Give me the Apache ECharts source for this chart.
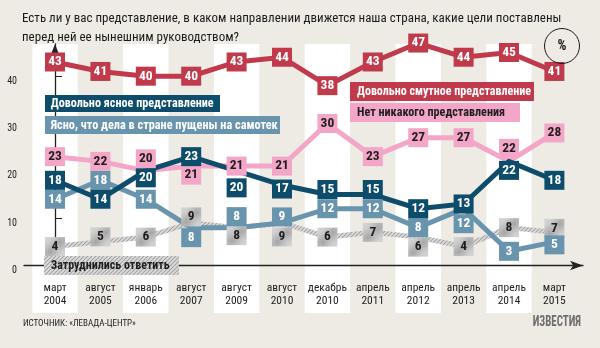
<!DOCTYPE html>
<html><head><meta charset="utf-8">
<script src="https://cdn.jsdelivr.net/npm/echarts@6/dist/echarts.min.js"></script>
<style>html,body{margin:0;padding:0;background:#edebe3;}#c{width:600px;height:348px;}</style>
</head><body><div id="c"></div>
<script>
// ---- data ----
const categories = ['март\n2004','август\n2005','январь\n2006','август\n2007','август\n2009','август\n2010','декабрь\n2010','апрель\n2011','апрель\n2012','апрель\n2013','апрель\n2014','март\n2015'];
const vague = [43,41,40,40,43,44,38,43,47,44,45,41];   // Довольно смутное представление
const noIdea = [23,22,20,21,21,21,30,23,27,27,22,28];  // Нет никакого представления
const clear = [18,14,20,23,20,17,15,15,12,13,22,18];   // Довольно ясное представление
const drift = [14,18,14,8,8,9,12,12,8,12,3,5];         // Ясно, что дела в стране пущены на самотек
const hard = [4,5,6,9,8,9,6,7,6,4,8,7];                // Затруднились ответить
const yTicks = [0,10,20,30,40];
const title = 'Есть ли у вас представление, в каком направлении движется наша страна, какие цели поставлены\nперед ней ее нынешним руководством?';
const source = 'ИСТОЧНИК: «ЛЕВАДА-ЦЕНТР»';
const logo = 'ИЗВЕСТИЯ';
const legendNames = ['Довольно ясное представление','Ясно, что дела в стране пущены на самотек','Довольно смутное представление','Нет никакого представления','Затруднились ответить'];

// ---- styling / layout ----
const FN = 'Roboto Condensed';
const F = "'Roboto Condensed','DejaVu Sans Condensed',sans-serif";
const C = {vague:'#c13a4b', noIdea:'#f3a6c8', clear:'#0e4c6b', drift:'#6894ae', ink:'#1e1e1e'};
// vertical nudges (px) of the value boxes, to keep them from overlapping
const shift = {
  vague:  {},
  noIdea: {2:-12, 3:9, 10:-13},
  clear:  {2:7, 4:17, 5:4, 6:-5, 7:-5, 10:9},
  drift:  {3:10, 4:-11, 5:-6, 9:15, 11:3},
  hard:   {1:-5, 3:-6, 4:8, 5:14, 8:10, 11:-4}
};
function hatch(){
  const c=document.createElement('canvas'); c.width=4; c.height=4;
  const g=c.getContext('2d'); g.fillStyle='#dcdcdc'; g.fillRect(0,0,4,4);
  g.strokeStyle='#a2a2a2'; g.lineWidth=1.1;
  g.beginPath(); g.moveTo(-1,5); g.lineTo(5,-1); g.moveTo(-1,1); g.lineTo(1,-1); g.moveTo(3,5); g.lineTo(5,3); g.stroke();
  return c;
}
const HATCH = {image: hatch(), repeat:'repeat'};
const mctx = document.createElement('canvas').getContext('2d');
function fitScale(text, size, weight, target){
  mctx.font = weight + ' ' + size + "px '" + FN + "'";
  return target / mctx.measureText(text).width;
}

function lineSeries(values, color, withBands){
  const s = {type:'line', data: values.map((v,i)=>[i,v]), showSymbol:false, symbol:'none',
    lineStyle:{color, width:5, cap:'butt', join:'miter'}, itemStyle:{color}, clip:false, silent:true, animation:false, z:2};
  if (withBands) {
    s.markArea = {silent:true, z:1, itemStyle:{color:'#ffffff', borderWidth:0}, label:{show:false},
      data: categories.map((c,i)=>i).filter(i=>i%2===0).map(i=>[{xAxis:i-0.5, y:44},{xAxis:i+0.5, y:313}])};
  }
  return s;
}
function boxSeries(values, color, textColor, sh){
  return {type:'scatter', data: values.map((v,i)=>{
      const d={value:[i,v]}; if (sh[i]) d.symbolOffset=[0,sh[i]]; return d;}),
    symbol:'rect', symbolSize:[20,19], itemStyle:{color, borderWidth:0, opacity:1},
    label:{show:true, position:'inside', color:textColor, fontFamily:F, fontWeight:'bold', fontSize:13.5, formatter:p=>p.value[1]},
    emphasis:{disabled:true}, clip:false, silent:true, animation:false, z:4};
}
function tag(x,y,w,h,fill,text,color,pad,textW){
  const sx = fitScale(text, 13.5, 'bold', textW);
  return [{type:'rect', shape:{x,y,width:w,height:h}, style:{fill}, z:10, silent:true},
          {type:'text', x:x+pad, y:y+h/2+0.5, scaleX:sx, originX:0, originY:0,
           style:{text, fill:color, fontFamily:F, fontWeight:'bold', fontSize:13.5, verticalAlign:'middle'}, z:11, silent:true}];
}

const chart = echarts.init(document.getElementById('c'), null, {renderer:'canvas'});
chart.setOption({
  backgroundColor:'#edebe3',
  animation:false,
  grid:{left:24, right:17, top:44, bottom:82.5, containLabel:false},
  xAxis:{type:'value', min:-0.683, max:11.63, z:3,
    axisLine:{show:true, onZero:true, symbol:['none','arrow'], symbolSize:[7,13], lineStyle:{color:'#222', width:1.3}},
    axisTick:{show:false}, splitLine:{show:false},
    axisLabel:{customValues: categories.map((c,i)=>i), formatter:v=>categories[v], color:'#222', fontFamily:F, fontSize:11.5, lineHeight:13, margin:16}},
  yAxis:{type:'value', min:0, max:46.8, interval:10, z:3,
    axisLine:{show:true, symbol:['none','arrow'], symbolSize:[7,12], lineStyle:{color:'#222', width:1.3}},
    axisTick:{show:true, inside:true, length:7, customValues:yTicks, lineStyle:{color:'#222', width:1}},
    splitLine:{show:false},
    axisLabel:{customValues:yTicks, color:'#222', fontFamily:F, fontSize:10, margin:7, verticalAlign:'top'}},
  series:[
    lineSeries(hard, HATCH, true),
    lineSeries(drift, C.drift),
    lineSeries(noIdea, C.noIdea),
    lineSeries(clear, C.clear),
    lineSeries(vague, C.vague),
    boxSeries(hard, HATCH, C.ink, shift.hard),
    boxSeries(drift, C.drift, '#fff', shift.drift),
    boxSeries(noIdea, C.noIdea, C.ink, shift.noIdea),
    boxSeries(clear, C.clear, '#fff', shift.clear),
    boxSeries(vague, C.vague, '#fff', shift.vague)
  ],
  graphic:[
    {type:'text', left:22, top:9, style:{text:title, fill:'#1a1a1a', fontFamily:F, fontSize:13, lineHeight:19}, z:10, silent:true},
    ...tag(45,95,175,17,C.clear,legendNames[0],'#fff',5.7,163),
    ...tag(45,116,235,18,C.drift,legendNames[1],'#fff',5.7,227),
    ...tag(350,82,184,19,C.vague,legendNames[2],'#fff',7,174),
    ...tag(350,103,170,19,C.noIdea,legendNames[3],C.ink,7,148),
    ...tag(44,256,135,19,HATCH,legendNames[4],C.ink,6.7,119),
    {type:'circle', shape:{cx:562, cy:46, r:17.5}, style:{fill:'none', stroke:'#1a1a1a', lineWidth:1}, z:10, silent:true},
    {type:'text', x:562, y:46, style:{text:'%', fill:'#1a1a1a', fontFamily:F, fontWeight:'bold', fontSize:14, align:'center', verticalAlign:'middle'}, z:11, silent:true},
    {type:'text', x:23, y:324, style:{text:source, fill:'#222', fontFamily:F, fontSize:9, verticalAlign:'middle'}, z:10, silent:true},
    {type:'text', x:581, y:322, scaleX:0.78, originX:0, originY:0, style:{text:logo, fill:'#6e6e6e', fontFamily:F, fontWeight:'bold', fontSize:14, align:'right', verticalAlign:'middle'}, z:10, silent:true}
  ]
});
</script></body></html>
